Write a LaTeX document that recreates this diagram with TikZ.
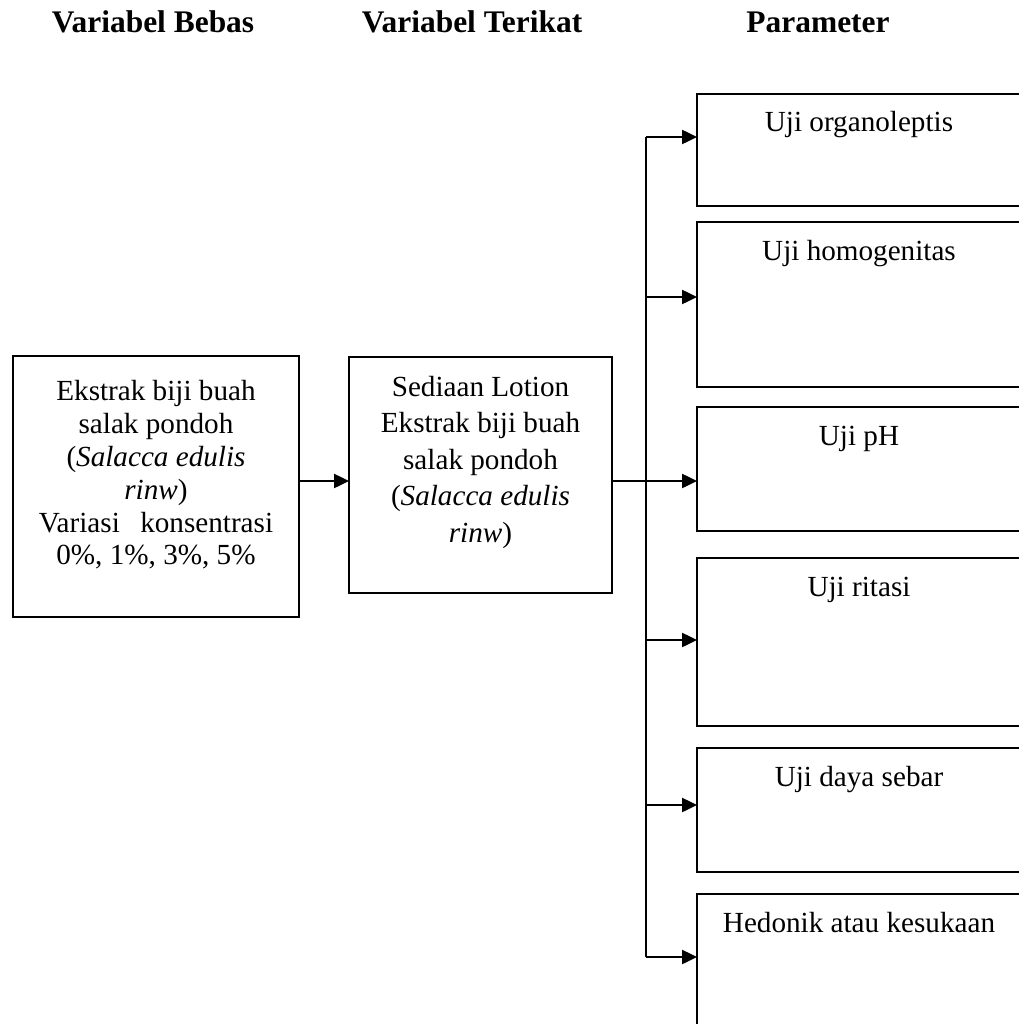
\documentclass[tikz,border=0pt]{standalone}
\usepackage{fontspec}
\setmainfont{Liberation Serif}
\usetikzlibrary{arrows.meta}

\begin{document}
\begin{tikzpicture}[x=0.02cm, y=-0.02cm,
    box/.style={draw, line width=1.1pt, outer sep=0pt, inner sep=0pt},
    link/.style={line width=1.1pt},
    arr/.style={link, -{Triangle[length=8.5pt, width=8pt]}},
    txt/.style={font=\fontsize{16.6}{18.7}\selectfont, align=center, inner sep=0pt},
    head/.style={font=\fontsize{17.9}{21}\selectfont\bfseries, anchor=base, inner sep=0pt}]

  \useasboundingbox (0,0) rectangle (1018,1024);

  % Column headers
  \node[head] (hbebas) at (153,33) {Variabel Bebas};
  \node[head] (hterikat) at (472,33) {Variabel Terikat};
  \node[head] (hparam) at (818,33) {Parameter};

  % Independent and dependent variable
  \node[box, minimum width=5.72cm, minimum height=5.22cm] (bebas) at (156,486.5) {};
  \node[txt, anchor=north] (tbebas) at (156,380)
    {Ekstrak biji buah\\ salak pondoh\\ (\textit{Salacca edulis}\\ \textit{rinw})\\
     Variasi\hspace{0.7em}konsentrasi\\ 0\%, 1\%, 3\%, 5\%};

  \node[box, minimum width=5.26cm, minimum height=4.72cm] (terikat) at (480.5,475) {};
  \node[txt, anchor=north, font=\fontsize{16.6}{20.7}\selectfont] (tterikat) at (480.5,376)
    {Sediaan Lotion\\ Ekstrak biji buah\\ salak pondoh\\ (\textit{Salacca edulis}\\ \textit{rinw})};

  % Parameter boxes
  \foreach \n/\ya/\yb/\t in {1/94/206/Uji organoleptis, 2/222/387/Uji homogenitas,
      3/407/531/Uji pH, 4/558/726/Uji ritasi, 5/748/872/Uji daya sebar,
      6/894/1060/Hedonik atau kesukaan} {
    \node[box, minimum width=6.86cm, minimum height={(\yb-\ya)*0.02cm}] (p\n) at (868.5,{(\ya+\yb)/2}) {};
    \node[txt, anchor=base] (tp\n) at (859,\ya+38) {\t};
  }

  % Connectors
  \foreach \n/\y in {1/137, 2/297, 3/481, 4/640, 5/805, 6/957}
    \coordinate (j\n) at (646,\y);
  \draw[arr] (bebas.east |- j3) -- (terikat.west |- j3);
  \draw[link] (terikat.east |- j3) -- (j3);
  \draw[link] (j1) -- (j6);
  \foreach \n in {1,...,6}
    \draw[arr] (j\n) -- (p\n.west |- j\n);
\end{tikzpicture}
\end{document}
